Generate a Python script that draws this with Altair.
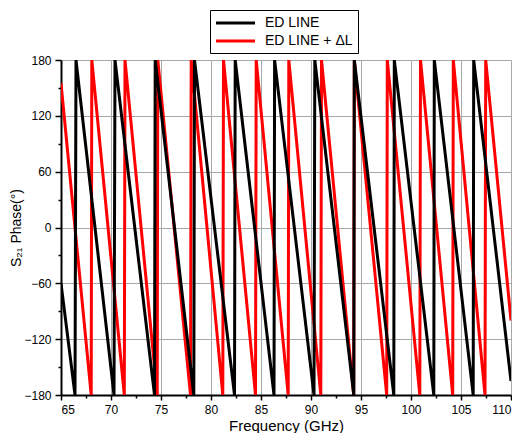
import altair as alt
import pandas as pd

# ---- data ----
black_freq = [65.0, 66.40, 66.50, 70.30, 70.40, 74.35, 74.42, 78.28, 78.35,
              82.35, 82.42, 86.30, 86.36, 90.30, 90.38, 94.28, 94.33, 98.28,
              98.33, 102.28, 102.33, 106.22, 106.27, 110.0]
black_phase = [-60, -180, 180, -180, 180, -180, 180, -180, 180,
               -180, 180, -180, 180, -180, 180, -180, 180, -180,
               180, -180, 180, -180, 180, -165]

red_freq = [65.0, 68.02, 68.08, 71.33, 71.40, 74.62, 74.68, 77.95, 78.02,
            81.18, 81.25, 84.45, 84.52, 87.72, 87.78, 90.98, 91.05, 94.27,
            94.33, 97.57, 97.63, 100.88, 100.95, 104.17, 104.23, 107.40,
            107.47, 110.0]
red_phase = [155, -180, 180, -180, 180, -180, 180, -180, 180,
             -180, 180, -180, 180, -180, 180, -180, 180, -180,
             180, -180, 180, -180, 180, -180, 180, -180,
             180, -100]

series_names = ["ED LINE", "ED LINE + \u0394L"]
series_colors = ["black", "red"]

x_major = [65, 70, 75, 80, 85, 90, 95, 100, 105, 110]
x_minor = [67.5, 72.5, 77.5, 82.5, 87.5, 92.5, 97.5, 102.5, 107.5]
y_major = [-180, -120, -60, 0, 60, 120, 180]
y_minor = [-150, -90, -30, 30, 90, 150]

black_df = pd.DataFrame({"f": black_freq, "p": black_phase,
                         "idx": range(len(black_freq)), "s": series_names[0]})
red_df = pd.DataFrame({"f": red_freq, "p": red_phase,
                       "idx": range(len(red_freq)), "s": series_names[1]})
all_df = pd.concat([red_df, black_df], ignore_index=True)

FONT = "Liberation Sans"
xscale = alt.Scale(domain=[65, 110], nice=False, zero=False)
yscale = alt.Scale(domain=[-180, 180], nice=False, zero=False)

color = alt.Color("s:N", title=None,
                  scale=alt.Scale(domain=series_names, range=series_colors),
                  legend=alt.Legend(orient="none", legendX=149, legendY=-50,
                                    strokeColor="black", fillColor="white",
                                    padding=5, symbolType="M-3,0H3",
                                    symbolSize=169, symbolStrokeWidth=3,
                                    symbolOffset=12.5,
                                    labelFontSize=14, labelFont=FONT,
                                    labelColor="black", labelOffset=21.5,
                                    rowPadding=3, cornerRadius=0))

xaxis = alt.Axis(values=x_major, grid=True, gridColor="#a8a8a8",
                 domainColor="black", domainWidth=2, tickColor="black",
                 tickWidth=1.5, tickSize=5, labelFontSize=12, labelFont=FONT,
                 labelColor="black", labelPadding=4, title="Frequency (GHz)",
                 titleFontSize=15, titleFont=FONT, titleFontWeight="normal",
                 titleColor="black", titleBaseline="alphabetic", titleY=35,
                 orient="bottom")
yaxis = alt.Axis(values=y_major, grid=True, gridColor="#a8a8a8",
                 domainColor="black", domainWidth=2, tickColor="black",
                 tickWidth=1.5, tickSize=6, labelFontSize=12, labelFont=FONT,
                 labelColor="black", labelPadding=4,
                 title="S\u2082\u2081 Phase(\u00b0)",
                 titleFontSize=14, titleFont=FONT, titleFontWeight="normal",
                 titleColor="black", titlePadding=0, orient="left")

red_layer = alt.Chart(red_df).mark_line(strokeWidth=3, clip=True).encode(
    x=alt.X("f:Q", scale=xscale, axis=xaxis),
    y=alt.Y("p:Q", scale=yscale, axis=yaxis),
    color=color,
    order="idx:Q",
)
black_layer = alt.Chart(black_df).mark_line(strokeWidth=3, clip=True).encode(
    x=alt.X("f:Q", scale=xscale, axis=None),
    y=alt.Y("p:Q", scale=yscale, axis=None),
    color=color,
    order="idx:Q",
)

minor_layer = alt.Chart(all_df).mark_point(opacity=0).encode(
    x=alt.X("f:Q", scale=xscale,
            axis=alt.Axis(values=x_minor, labels=False, grid=False,
                          domain=False, tickColor="black", tickWidth=1.5,
                          tickSize=3, title=None, orient="bottom")),
    y=alt.Y("p:Q", scale=yscale,
            axis=alt.Axis(values=y_minor, labels=False, grid=False,
                          domain=False, tickColor="black", tickWidth=1.5,
                          tickSize=3, title=None, orient="left")),
)

chart = alt.layer(minor_layer, red_layer, black_layer).resolve_axis(
    x="independent", y="independent"
).properties(
    width=450, height=335,
    autosize=alt.AutoSizeParams(type="none"),
    padding={"left": 53, "top": 52, "right": 1, "bottom": 38},
).configure_view(stroke="#888888", strokeWidth=1).configure(background="white")

chart.save("out.html", embed_options={"renderer": "svg", "actions": False})
